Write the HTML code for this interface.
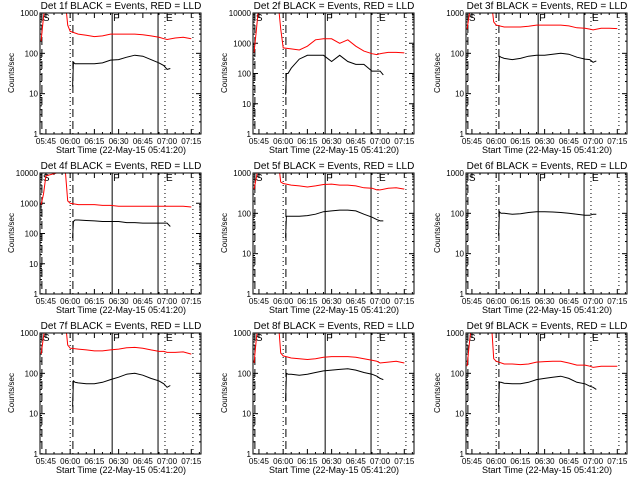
<!DOCTYPE html>
<html><head><meta charset="utf-8"><style>
html,body{margin:0;padding:0;background:#fff;}
svg{display:block;font-family:"Liberation Sans",sans-serif;}
</style></head><body>
<svg id="chart" width="640" height="480" viewBox="0 0 640 480" xmlns="http://www.w3.org/2000/svg">
<rect x="0" y="0" width="640" height="480" fill="#fff"/>
</svg>
<script>
const panelTitles = ["Det 1f","Det 2f","Det 3f","Det 4f","Det 5f","Det 6f","Det 7f","Det 8f","Det 9f"];
const panelDecades = [3,4,3,4,3,3,3,3,3];
const xTickLabels = ["05:45","06:00","06:15","06:30","06:45","07:00","07:15"];
const xTickTimes = [345,360,375,390,405,420,435];
const redTimes = [342,343.5,345,357,358.5,360,365,370,375,380,385,390,395,400,405,410,415,418,420,425,430,435];
const blackTimes = [361.5,362,363,365,370,375,380,385,390,395,400,405,410,415,418,420,422];
const red1 = [200,800,2000,2000,500,350,300,280,260,270,300,300,300,300,290,270,250,230,220,240,250,230];
const red2 = [500,3000,20000,20000,3000,700,650,600,800,1300,1400,1400,1000,1300,800,550,450,420,450,500,500,480];
const red3 = [400,1000,2000,2000,600,500,450,450,450,470,500,500,500,500,480,430,420,400,380,420,420,410];
const red4 = [900,2000,8000,12000,1200,1000,900,900,900,850,850,800,800,800,800,800,800,800,800,800,800,750];
const red5 = [400,800,2000,2000,600,550,500,480,450,480,520,530,500,500,480,430,420,380,380,420,430,400];
const red6 = [];
const red7 = [300,800,2000,2000,500,420,400,380,360,360,380,400,430,440,420,380,350,350,330,330,340,300];
const red8 = [180,800,2000,2000,320,270,240,230,220,230,250,260,260,260,250,230,210,200,180,190,200,180];
const red9 = [150,600,2000,2000,230,200,170,170,165,170,190,195,200,200,180,160,160,150,140,150,150,150];
const black1 = [15,60,55,55,55,55,58,68,70,80,90,85,70,58,50,40,42];
const black2 = [20,100,100,150,300,400,400,400,250,400,250,200,200,120,120,120,90];
const black3 = [20,85,80,75,70,75,85,90,90,95,100,95,80,72,70,60,65];
const black4 = [70,250,280,280,270,260,250,250,250,230,230,220,220,220,220,220,170];
const black5 = [25,85,85,85,85,88,95,110,115,120,120,115,95,80,70,65,65];
const black6 = [28,110,100,100,95,98,105,110,110,108,105,100,95,90,90,95,95];
const black7 = [15,65,60,58,55,55,60,70,80,95,100,90,75,65,55,45,50];
const black8 = [20,100,95,95,90,95,105,115,120,125,130,120,105,95,85,75,70];
const black9 = [15,60,60,57,55,55,60,70,75,80,85,75,60,55,48,45,40];
const reds = [red1,red2,red3,red4,red5,red6,red7,red8,red9];
const blacks = [black1,black2,black3,black4,black5,black6,black7,black8,black9];
const markerTimes = [342.5,360,361.7,386,414.4,418.7,436];
const markerStyles = ["8,4","1,3","8,4","","","1,3","1,3"];

const NS="http://www.w3.org/2000/svg";
const svg=document.getElementById('chart');
function mk(tag,attrs,parent){const e=document.createElementNS(NS,tag);for(const k in attrs)e.setAttribute(k,attrs[k]);(parent||svg).appendChild(e);return e;}
const L=40,R=201,T=13,B=134;
const t0=341.33,t1=441;
function xs(t,ox){return ox+L+(t-t0)/(t1-t0)*(R-L);}
function ys(v,dec,oy){return oy+B-Math.log10(v)/dec*(B-T);}

for(let p=0;p<9;p++){
  const ox=(p%3)*213, oy=Math.floor(p/3)*160, dec=panelDecades[p];
  const g=mk('g',{});
  
  
  const cid='clip'+p;
  const cp=mk('clipPath',{id:cid},g);mk('rect',{x:ox+L,y:oy+T,width:R-L,height:B-T},cp);
  const title=mk('text',{x:ox+121,y:oy+9,'font-size':10,'text-anchor':'middle',fill:'#000'},g);
  title.textContent=panelTitles[p]+" BLACK = Events, RED = LLD";
  
  
  const yl=mk('text',{x:0,y:0,'font-size':8,'text-anchor':'middle',transform:`translate(${ox+14},${oy+73}) rotate(-90)`},g);
  yl.textContent="Counts/sec";
  
  
  const xl=mk('text',{x:ox+121,y:oy+153,'font-size':9,'text-anchor':'middle'},g);
  xl.textContent="Start Time (22-May-15 05:41:20)";
  
  
  // y ticks
  for(let d=0;d<=dec;d++){
    const v=Math.pow(10,d),y=ys(v,dec,oy);
    mk('line',{x1:ox+L,x2:ox+L+5,y1:y,y2:y,stroke:'#000'},g);
    mk('line',{x1:ox+R,x2:ox+R-5,y1:y,y2:y,stroke:'#000'},g);
    const tl=mk('text',{x:ox+L-2,y:y+3,'font-size':8,'text-anchor':'end'},g);
    tl.textContent=String(v);
    
    
    if(d<dec)for(let m=2;m<10;m++){const ym=ys(v*m,dec,oy);
      mk('line',{x1:ox+L,x2:ox+L+2,y1:ym,y2:ym,stroke:'#000'},g);
      mk('line',{x1:ox+R,x2:ox+R-2,y1:ym,y2:ym,stroke:'#000'},g);}
  }
  // x ticks
  xTickTimes.forEach((t,i)=>{const x=xs(t,ox);
    mk('line',{x1:x,x2:x,y1:oy+B,y2:oy+B-5,stroke:'#000'},g);
    mk('line',{x1:x,x2:x,y1:oy+T,y2:oy+T+5,stroke:'#000'},g);
    for(let k=1;k<3;k++){const xm=xs(t+k*5,ox);if(xm<ox+R){
      mk('line',{x1:xm,x2:xm,y1:oy+B,y2:oy+B-2,stroke:'#000'},g);
      mk('line',{x1:xm,x2:xm,y1:oy+T,y2:oy+T+2,stroke:'#000'},g);}}
    const tl=mk('text',{x:x,y:oy+144,'font-size':8,'text-anchor':'middle'},g);
    tl.textContent=xTickLabels[i];
    
    
  });
  // markers
  markerTimes.forEach((t,i)=>{const x=xs(t,ox);
    const a={x1:x,x2:x,y1:oy+T,y2:oy+B,stroke:'#000','stroke-width':1};
    if(markerStyles[i])a['stroke-dasharray']=markerStyles[i];
    const ln=mk('line',a,g);
    
    });
  [["S",342.5],["F",386],["E",418.7]].forEach(([s,t])=>{
    const tx=mk('text',{x:xs(t,ox)+1,y:oy+T+8,'font-size':10},g);tx.textContent=s;
    
    });
  // series
  const cg=mk('g',{'clip-path':`url(#${cid})`},g);
  function line(times,vals,col,name){if(!vals.length)return;
    const pts=vals.map((v,i)=>xs(times[i],ox).toFixed(1)+','+ys(v,dec,oy).toFixed(1)).join(' ');
    const pl=mk('polyline',{points:pts,fill:'none',stroke:col,'stroke-width':1},cg);
    
    }
  line(redTimes,reds[p],'#f00','lld-series');
  line(blackTimes,blacks[p],'#000','events-series');
  const box=mk('rect',{x:ox+L,y:oy+T,width:R-L,height:B-T,fill:'none',stroke:'#000'},g);
  
  
}
</script>
</body></html>
